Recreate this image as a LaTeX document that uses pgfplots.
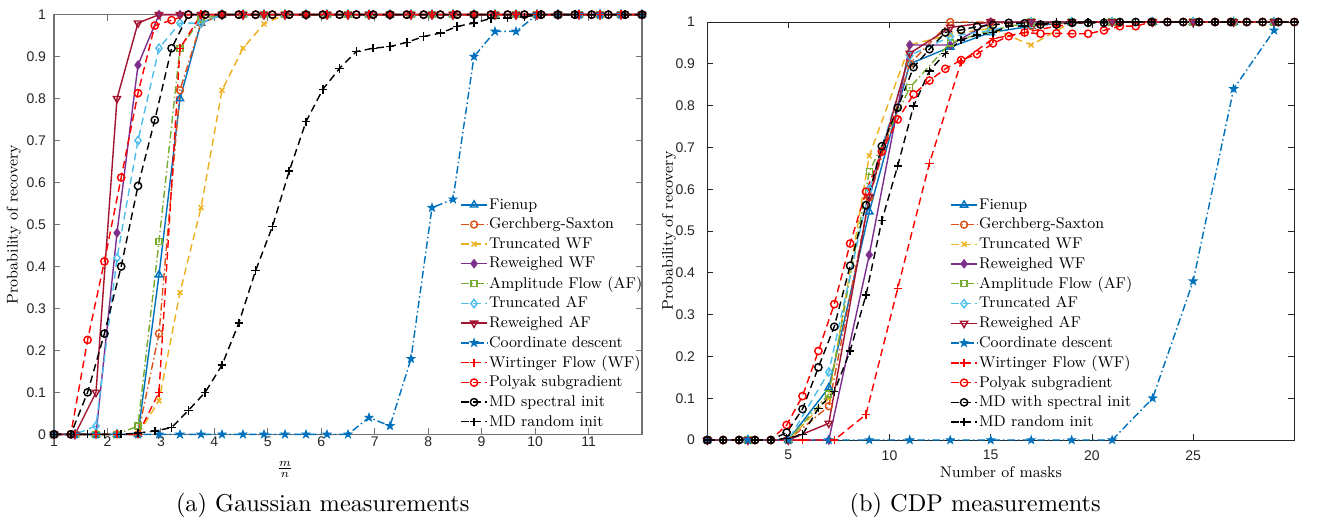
\documentclass[border=0pt]{standalone}
\usepackage{fontspec}
\usepackage{pgfplots}
\usepackage{pgfplotstable}
\pgfplotsset{compat=1.18}
\usetikzlibrary{plotmarks}
\newfontfamily\tickfont{Liberation Sans}
\newfontfamily\capfont{lmroman10-regular}[Extension=.otf]

\definecolor{c1}{rgb}{0,0.447,0.741}
\definecolor{c2}{rgb}{0.85,0.325,0.098}
\definecolor{c3}{rgb}{0.929,0.694,0.125}
\definecolor{c4}{rgb}{0.494,0.184,0.556}
\definecolor{c5}{rgb}{0.466,0.674,0.188}
\definecolor{c6}{rgb}{0.301,0.745,0.933}
\definecolor{c7}{rgb}{0.635,0.078,0.184}

\pgfdeclareplotmark{pentagram}{%
  \pgfpathmoveto{\pgfpointpolar{90}{\pgfplotmarksize}}%
  \pgfpathlineto{\pgfpointpolar{126}{0.4\pgfplotmarksize}}%
  \pgfpathlineto{\pgfpointpolar{162}{\pgfplotmarksize}}%
  \pgfpathlineto{\pgfpointpolar{198}{0.4\pgfplotmarksize}}%
  \pgfpathlineto{\pgfpointpolar{234}{\pgfplotmarksize}}%
  \pgfpathlineto{\pgfpointpolar{270}{0.4\pgfplotmarksize}}%
  \pgfpathlineto{\pgfpointpolar{306}{\pgfplotmarksize}}%
  \pgfpathlineto{\pgfpointpolar{342}{0.4\pgfplotmarksize}}%
  \pgfpathlineto{\pgfpointpolar{18}{\pgfplotmarksize}}%
  \pgfpathlineto{\pgfpointpolar{54}{0.4\pgfplotmarksize}}%
  \pgfpathclose
  \pgfusepathqfillstroke
}

\newcommand\ls{\rule[-2pt]{0pt}{8.6pt}}

% ---------- data: Gaussian measurements ----------
\pgfplotstableread{
x       fien gs   twf   rwf  af   taf  raf  cd   wf
1       0    0    0     0    0    0    0    0    0
1.3929  0    0    0     0    0    0    0    0    0
1.7857  0    0    0     0    0    0.02 0.10 0    0
2.1786  0    0    0     0.48 0    0.42 0.80 0    0
2.5714  0    0    0     0.88 0.02 0.70 0.98 0    0
2.9643  0.38 0.24 0.08  1    0.46 0.92 1    0    0.10
3.3571  0.80 0.82 0.338 1    0.92 0.98 1    0    0.92
3.75    0.98 0.98 0.54  1    0.99 0.98 1    0    1
4.1429  1    1    0.82  1    1    1    1    0    1
4.5357  1    1    0.92  1    1    1    1    0    1
4.9286  1    1    0.978 1    1    1    1    0    1
5.3214  1    1    1     1    1    1    1    0    1
5.7143  1    1    1     1    1    1    1    0    1
6.1071  1    1    1     1    1    1    1    0    1
6.5     1    1    1     1    1    1    1    0    1
6.8929  1    1    1     1    1    1    1    0.04 1
7.2857  1    1    1     1    1    1    1    0.02 1
7.6786  1    1    1     1    1    1    1    0.18 1
8.0714  1    1    1     1    1    1    1    0.54 1
8.4643  1    1    1     1    1    1    1    0.56 1
8.8571  1    1    1     1    1    1    1    0.90 1
9.25    1    1    1     1    1    1    1    0.96 1
9.6429  1    1    1     1    1    1    1    0.96 1
10.0357 1    1    1     1    1    1    1    1    1
10.4286 1    1    1     1    1    1    1    1    1
10.8214 1    1    1     1    1    1    1    1    1
11.2143 1    1    1     1    1    1    1    1    1
11.6071 1    1    1     1    1    1    1    1    1
12      1    1    1     1    1    1    1    1    1
}\LB

\pgfplotstableread{
x       pol   mds   mdr
1       0     0     0
1.3143  0     0     0
1.6286  0.225 0.10  0
1.9429  0.412 0.24  0
2.2571  0.612 0.40  0
2.5714  0.813 0.592 0.003
2.8857  0.974 0.749 0.008
3.2     0.987 0.92  0.016
3.5143  1     1     0.057
3.8286  1     1     0.10
4.1429  1     1     0.165
4.4571  1     1     0.265
4.7714  1     1     0.39
5.0857  1     1     0.495
5.4     1     1     0.627
5.7143  1     1     0.745
6.0286  1     1     0.822
6.3429  1     1     0.872
6.6571  1     1     0.912
6.9714  1     1     0.92
7.2857  1     1     0.924
7.6     1     1     0.934
7.9143  1     1     0.948
8.2286  1     1     0.956
8.5429  1     1     0.972
8.8571  1     1     0.98
9.1714  1     1     0.991
9.4857  1     1     0.992
9.8     1     1     0.995
10.1143 1     1     1
10.4286 1     1     1
10.7429 1     1     1
11.0571 1     1     1
11.3714 1     1     1
11.6857 1     1     1
12      1     1     1
}\LA

% ---------- data: CDP measurements ----------
\pgfplotstableread{
x  fien  gs    twf   rwf   af    taf   raf   cd
1  0     0     0     0     0     0     0     0
3  0     0     0     0     0     0     0     0
5  0     0     0     0     0     0     0     0
7  0.125 0.081 0.10  0     0.11  0.163 0.04  0
9  0.546 0.58  0.68  0.443 0.642 0.60  0.582 0
11 0.90  0.90  0.945 0.945 0.843 0.92  0.925 0
13 0.94  1     0.97  0.945 0.95  0.965 0.987 0
15 0.975 1     0.985 1     0.98  0.98  1     0
17 0.99  0.99  0.945 1     1     1     1     0
19 1     1     1     1     1     1     1     0
21 1     1     1     1     1     1     1     0
23 1     1     1     1     1     1     1     0.10
25 1     1     1     1     1     1     1     0.38
27 1     1     1     1     1     1     1     0.84
29 1     1     1     1     1     1     1     0.98
}\RO

\pgfplotstableread{
x        wf
1        0
2.5676   0
4.1351   0
5.7027   0
7.2703   0
8.8378   0.061
10.4054  0.363
11.9730  0.662
13.5405  0.905
15.1081  0.96
16.6757  0.975
18.2432  0.99
19.8108  1
21.3784  1
22.9459  1
24.5135  1
26.0811  1
27.6486  1
29.2162  1
}\RW

\pgfplotstableread{
x        pol   mds   mdr
1        0     0     0
1.7838   0     0     0
2.5676   0     0     0
3.3514   0     0     0
4.1351   0     0     0
4.9189   0.036 0.018 0.004
5.7027   0.105 0.074 0.013
6.4865   0.213 0.174 0.076
7.2703   0.325 0.271 0.116
8.0541   0.47  0.417 0.213
8.8378   0.594 0.562 0.347
9.6216   0.69  0.703 0.525
10.4054  0.767 0.795 0.656
11.1892  0.827 0.892 0.799
11.9730  0.86  0.935 0.883
12.7568  0.888 0.975 0.925
13.5405  0.909 0.981 0.957
14.3243  0.923 0.989 0.969
15.1081  0.949 0.993 0.975
15.8919  0.966 0.998 0.99
16.6757  0.975 0.997 0.99
17.4595  0.972 0.994 0.995
18.2432  0.973 0.994 1
19.0270  0.972 0.998 1
19.8108  0.972 0.998 1
20.5946  0.98  0.998 1
21.3784  0.99  1     1
22.1622  0.99  1     1
22.9459  1     1     1
23.7297  1     1     1
24.5135  1     1     1
25.2973  1     1     1
26.0811  1     1     1
26.8649  1     1     1
27.6486  1     1     1
28.4324  1     1     1
29.2162  1     1     1
30       1     1     1
}\RR

\pgfplotsset{
  mdash/.style={dash pattern=on 4.5pt off 2.7pt},
  mdashdot/.style={dash pattern=on 4.5pt off 1.8pt on 0.9pt off 1.8pt},
  ser/.style={line width=0.85pt, mark options={solid}},
  sFien/.style={ser, color=c1, solid, mark=triangle, mark size=2.5pt},
  sGS/.style={ser, color=c2, mdashdot, mark=o, mark size=2.1pt},
  sTWF/.style={ser, color=c3, mdash, mark=x, mark size=2.1pt},
  sRWF/.style={ser, color=c4, solid, mark=diamond*, mark size=2.3pt},
  sAF/.style={ser, color=c5, mdashdot, mark=square, mark size=1.8pt},
  sTAF/.style={ser, color=c6, mdash, mark=diamond, mark size=2.5pt},
  sRAF/.style={ser, color=c7, solid, mark=triangle, mark size=2.5pt, mark options={solid,rotate=180}},
  sCD/.style={ser, color=c1, mdashdot, mark=pentagram, mark size=2.0pt},
  sWF/.style={ser, color=red, mdash, mark=+, mark size=2.5pt},
  sPol/.style={ser, color=red, mdash, mark=o, mark size=2.2pt},
  sMDs/.style={ser, color=black, mdash, mark=o, mark size=2.2pt},
  sMDr/.style={ser, color=black, mdash, mark=+, mark size=2.5pt},
  base/.style={
    scale only axis,
    clip=false,
    ymin=0, ymax=1,
    ytick={0,0.1,0.2,0.3,0.4,0.5,0.6,0.7,0.8,0.9,1},
    yticklabels={0,0.1,0.2,0.3,0.4,0.5,0.6,0.7,0.8,0.9,1},
    tick align=inside,
    major tick length=3.6pt,
    ticklabel style={font=\tickfont\fontsize{8.4}{10}\selectfont, text=black!85},
    label style={font=\fontsize{9.3}{11}\selectfont},
    ylabel={Probability of recovery},
    legend cell align=left,
    legend style={draw=none, fill=none, inner sep=0pt, row sep=2.65pt, column sep=0.3pt,
      font=\fontsize{9.3}{11}\selectfont, nodes={inner sep=0.5pt}},
    legend image code/.code={\draw[mark repeat=2,mark phase=2,##1] plot coordinates {(0pt,0pt) (7.8pt,0pt) (15.6pt,0pt)};},
  },
}

\begin{document}
\begin{tikzpicture}
\path[use as bounding box] (-32.4pt,-52.0pt) rectangle (757.8pt,260.6pt);

\begin{axis}[base,
  at={(0pt,0pt)}, anchor=south west,
  width=352.8pt, height=251.8pt,
  xmin=1, xmax=12,
  xtick={1,2,3,4,5,6,7,8,9,10,11},
  xticklabels={1,2,3,4,5,6,7,8,9,10,11},
  axis line style={black!55, line width=0.7pt},
  tick style={black!55, line width=0.6pt},
  xticklabel style={anchor=north, inner sep=0pt, yshift=-1.5pt},
  yticklabel style={anchor=east, inner sep=0pt, xshift=-4.6pt},
  xlabel={$\frac{m}{n}$},
  xlabel style={at={(axis description cs:0.393,-0.083)}, anchor=center},
  ylabel style={at={(axis description cs:-0.0685,0.5)}, anchor=center},
  legend style={at={(0.6905,0.5655)}, anchor=north west},
]
\addplot[sFien] table[x=x,y=fien]{\LB}; \addlegendentry{\ls Fienup}
\addplot[sGS]   table[x=x,y=gs]{\LB};   \addlegendentry{\ls Gerchberg-Saxton}
\addplot[sTWF]  table[x=x,y=twf]{\LB};  \addlegendentry{\ls Truncated WF}
\addplot[sRWF]  table[x=x,y=rwf]{\LB};  \addlegendentry{\ls Reweighed WF}
\addplot[sAF]   table[x=x,y=af]{\LB};   \addlegendentry{\ls Amplitude Flow (AF)}
\addplot[sTAF]  table[x=x,y=taf]{\LB};  \addlegendentry{\ls Truncated AF}
\addplot[sRAF]  table[x=x,y=raf]{\LB};  \addlegendentry{\ls Reweighed AF}
\addplot[sCD]   table[x=x,y=cd]{\LB};   \addlegendentry{\ls Coordinate descent}
\addplot[sWF]   table[x=x,y=wf]{\LB};   \addlegendentry{\ls Wirtinger Flow (WF)}
\addplot[sPol]  table[x=x,y=pol]{\LA};  \addlegendentry{\ls Polyak subgradient}
\addplot[sMDs]  table[x=x,y=mds]{\LA};  \addlegendentry{\ls MD spectral init}
\addplot[sMDr]  table[x=x,y=mdr]{\LA};  \addlegendentry{\ls MD random init}
\end{axis}

\begin{axis}[base,
  at={(392pt,-3.42pt)}, anchor=south west,
  width=352.2pt, height=250.8pt,
  xmin=1, xmax=30,
  xtick={5,10,15,20,25},
  xticklabels={5,10,15,20,25},
  axis line style={black!85, line width=0.5pt},
  tick style={black!85, line width=0.5pt},
  xticklabel style={anchor=north, inner sep=0pt, yshift=-6pt},
  yticklabel style={anchor=east, inner sep=0pt, xshift=-7.2pt},
  xlabel={Number of masks},
  xlabel style={at={(axis description cs:0.5,-0.0778)}, anchor=center},
  ylabel style={at={(axis description cs:-0.0652,0.5)}, anchor=center},
  legend style={at={(0.4135,0.581)}, anchor=north west},
]
\addplot[sFien] table[x=x,y=fien]{\RO}; \addlegendentry{\ls Fienup}
\addplot[sGS]   table[x=x,y=gs]{\RO};   \addlegendentry{\ls Gerchberg-Saxton}
\addplot[sTWF]  table[x=x,y=twf]{\RO};  \addlegendentry{\ls Truncated WF}
\addplot[sRWF]  table[x=x,y=rwf]{\RO};  \addlegendentry{\ls Reweighed WF}
\addplot[sAF]   table[x=x,y=af]{\RO};   \addlegendentry{\ls Amplitude Flow (AF)}
\addplot[sTAF]  table[x=x,y=taf]{\RO};  \addlegendentry{\ls Truncated AF}
\addplot[sRAF]  table[x=x,y=raf]{\RO};  \addlegendentry{\ls Reweighed AF}
\addplot[sCD]   table[x=x,y=cd]{\RO};   \addlegendentry{\ls Coordinate descent}
\addplot[sWF]   table[x=x,y=wf]{\RW};   \addlegendentry{\ls Wirtinger Flow (WF)}
\addplot[sPol]  table[x=x,y=pol]{\RR};  \addlegendentry{\ls Polyak subgradient}
\addplot[sMDs]  table[x=x,y=mds]{\RR};  \addlegendentry{\ls MD with spectral init}
\addplot[sMDr]  table[x=x,y=mdr]{\RR};  \addlegendentry{\ls MD random init}
\end{axis}

\node[anchor=west, inner sep=0pt, font=\capfont\fontsize{14.6}{17}\selectfont] at (73pt,-42.4pt) {(a) Gaussian measurements};
\node[anchor=west, inner sep=0pt, font=\capfont\fontsize{14.6}{17}\selectfont] at (477.2pt,-42.4pt) {(b) CDP measurements};
\end{tikzpicture}
\end{document}
